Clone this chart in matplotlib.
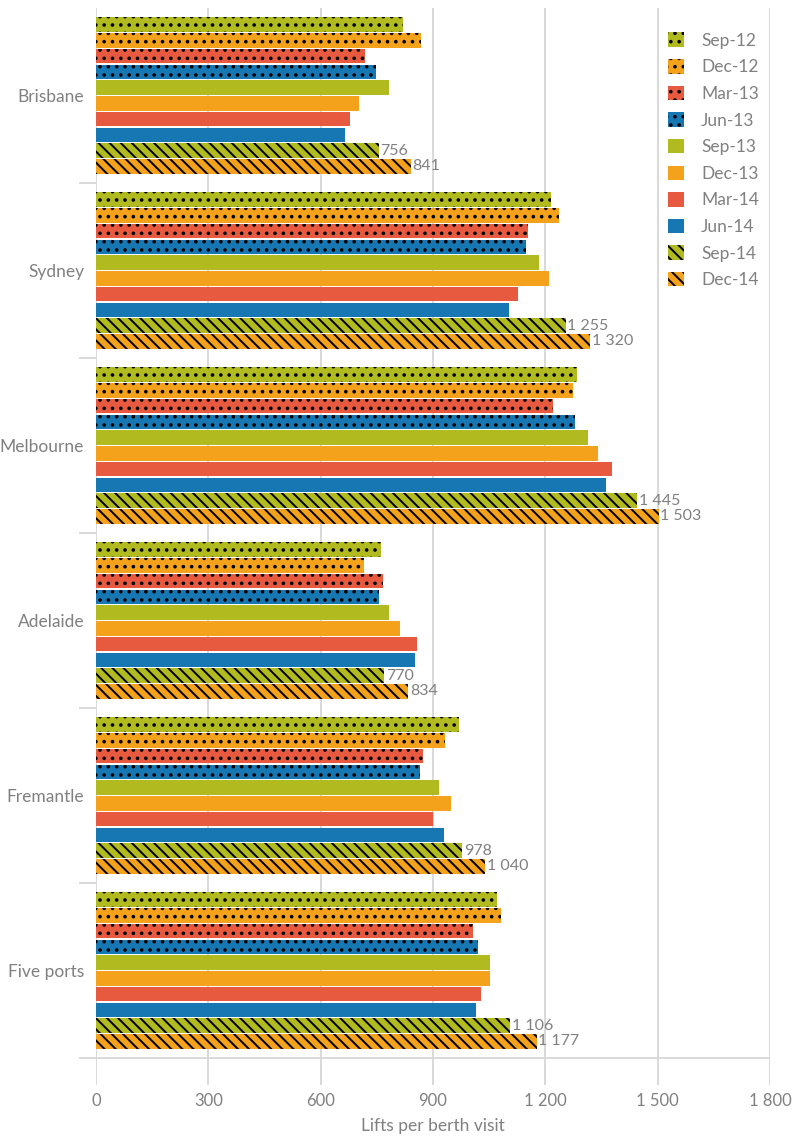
import numpy as np
import matplotlib
matplotlib.use("Agg")
import matplotlib.pyplot as plt
from matplotlib.patches import Patch

plt.rcParams['font.family'] = ['Lato', 'DejaVu Sans']
plt.rcParams['hatch.linewidth'] = 1.4

ports = ["Brisbane", "Sydney", "Melbourne", "Adelaide", "Fremantle", "Five ports"]
quarters = ["Sep-12", "Dec-12", "Mar-13", "Jun-13", "Sep-13",
            "Dec-13", "Mar-14", "Jun-14", "Sep-14", "Dec-14"]

# Lifts per berth visit, one list per quarter (ports in order above)
sep12 = [820, 1215, 1285, 761, 969, 1071]
dec12 = [868, 1237, 1274, 716, 932, 1082]
mar13 = [718, 1154, 1220, 767, 873, 1007]
jun13 = [748, 1148, 1279, 756, 865, 1020]
sep13 = [783, 1183, 1314, 783, 916, 1052]
dec13 = [702, 1210, 1341, 812, 948, 1052]
mar14 = [678, 1127, 1378, 857, 900, 1028]
jun14 = [665, 1103, 1362, 852, 929, 1015]
sep14 = [756, 1255, 1445, 770, 978, 1106]
dec14 = [841, 1320, 1503, 834, 1040, 1177]

series = [sep12, dec12, mar13, jun13, sep13, dec13, mar14, jun14, sep14, dec14]

green, orange, red, blue = "#B1BB1F", "#F4A11C", "#E85A40", "#1677B2"
colors = [green, orange, red, blue] * 2 + [green, orange]
hatches = [".."] * 4 + [None] * 4 + ["\\\\\\"] * 2
labelled = [False] * 8 + [True] * 2

grey = "#808080"
gridc = "#D9D9D9"

fig = plt.figure(figsize=(7.95, 11.36), dpi=100)
ax = fig.add_axes([96 / 795, 1 - 1085 / 1136, 674 / 795, 1077 / 1136])

ypos = np.arange(len(ports))
slot = 0.09
height = 0.083

for k, (vals, col, hat, lab) in enumerate(zip(series, colors, hatches, labelled)):
    y = ypos + (k - 4.5) * slot
    ax.barh(y, vals, height=height, color=col, hatch=hat,
            edgecolor="black" if hat else col, linewidth=0, zorder=3,
            label=quarters[k])
    if lab:
        for yy, v in zip(y, vals):
            txt = f"{v:,}".replace(",", " ")
            ax.text(v + 4, yy, txt, va="center", ha="left", fontsize=11.5,
                    color=grey, zorder=4)

ax.set_xlim(0, 1800)
ax.set_ylim(5.654, -0.5)

xt = np.arange(0, 1801, 300)
ax.set_xticks(xt)
ax.set_xticklabels([f"{v:,}".replace(",", " ") for v in xt], fontsize=12, color=grey)
ax.tick_params(axis="x", length=0, pad=6)
for v in xt:
    ax.axvline(v, color=gridc, linewidth=1.4, zorder=1)

# Category separators as outward ticks; labels on minor ticks at centres
ax.set_yticks(np.arange(0.5, 6.0, 1.0))
ax.set_yticklabels([])
ax.tick_params(axis="y", which="major", length=12, width=1.4, color=gridc, direction="out")
ax.set_yticks(ypos, minor=True)
ax.set_yticklabels(ports, minor=True, fontsize=12.5, color=grey)
ax.tick_params(axis="y", which="minor", length=0, pad=8.5)

ax.axhline(5.5, color=gridc, linewidth=1.4, zorder=1)

for s in ax.spines.values():
    s.set_visible(False)

ax.set_xlabel("Lifts per berth visit", fontsize=12.5, color=grey, labelpad=6)

handles = [Patch(facecolor=c, hatch=h, edgecolor="black" if h else c, linewidth=0,
                 label=q) for c, h, q in zip(colors, hatches, quarters)]
leg = ax.legend(handles=handles, loc="upper right", bbox_to_anchor=(1.012, 0.995),
                frameon=False, fontsize=12.5, handlelength=0.9, handleheight=0.9,
                labelspacing=0.6, handletextpad=1.0, borderpad=0.8,
                borderaxespad=0.3)
for t in leg.get_texts():
    t.set_color(grey)

fig.savefig("out.png", dpi=100)
